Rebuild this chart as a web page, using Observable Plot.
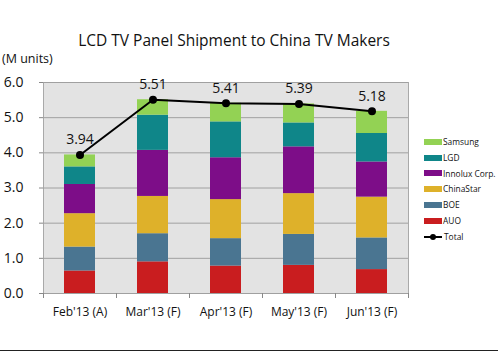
<!DOCTYPE html>
<html>
<head>
<meta charset="utf-8">
<script src="https://cdn.jsdelivr.net/npm/d3@7"></script>
<script src="https://cdn.jsdelivr.net/npm/@observablehq/plot@0.6"></script>
<style>
  html, body { margin: 0; padding: 0; background: #fff; }
  #wrap { position: relative; width: 498px; height: 351px; overflow: hidden; font-family: "Open Sans", sans-serif; color: #111; }
  #wrap svg { position: absolute; left: 0; top: 0; }
  .title { position: absolute; left: 0; width: 468px; top: 30px; text-align: center; font-size: 15.5px; line-height: 20px; }
  .unit { position: absolute; left: 2px; top: 50px; font-size: 12.5px; line-height: 18px; }
  .legend { position: absolute; left: 424px; top: 134px; font-size: 8.4px; line-height: 15.8px; }
  .legend div { display: flex; align-items: center; height: 15.8px; white-space: nowrap; }
  .sw { display: inline-block; width: 18px; height: 6px; margin-right: 1px; }
  .ln { position: relative; display: inline-block; width: 18px; height: 6px; margin-right: 2px; }
  .ln::before { content: ""; position: absolute; left: 0; right: 0; top: 2px; height: 2px; background: #000; }
  .ln::after { content: ""; position: absolute; left: 6px; top: 0; width: 6px; height: 6px; border-radius: 50%; background: #000; }
  .border { position: absolute; left: 0; right: 0; bottom: 0; height: 1px; background: #222; }
</style>
</head>
<body>
<div id="wrap">
  <div class="title">LCD TV Panel Shipment to China TV Makers</div>
  <div class="unit">(M units)</div>
  <div class="legend" id="legend"></div>
  <div class="border"></div>
</div>
<script>
const months = ["Feb'13 (A)", "Mar'13 (F)", "Apr'13 (F)", "May'13 (F)", "Jun'13 (F)"];
const makers = ["AUO", "BOE", "ChinaStar", "Innolux Corp.", "LGD", "Samsung"];
const makerColors = ["#c91d1f", "#4a7591", "#deb12a", "#7d0d88", "#0f8689", "#93d254"];
const auo       = [0.64, 0.90, 0.78, 0.80, 0.68];
const boe       = [0.68, 0.80, 0.78, 0.88, 0.90];
const chinaStar = [0.95, 1.06, 1.11, 1.16, 1.16];
const innolux   = [0.83, 1.31, 1.19, 1.33, 1.00];
const lgd       = [0.50, 1.00, 1.02, 0.68, 0.81];
const samsung   = [0.34, 0.44, 0.53, 0.54, 0.63];
const total     = [3.94, 5.51, 5.41, 5.39, 5.18];
const yTicks    = [0, 1, 2, 3, 4, 5, 6];

const series = [auo, boe, chinaStar, innolux, lgd, samsung];
const rows = [];
makers.forEach((m, j) => months.forEach((mo, i) => rows.push({month: mo, maker: m, value: series[j][i]})));
const totals = months.map((mo, i) => ({month: mo, total: total[i]}));

const W = 498, H = 351;
const mL = 43, mR = 90, mT = 82, mB = 58;
const step = (W - mL - mR) / months.length;

const chart = Plot.plot({
  width: W, height: H,
  marginLeft: mL, marginRight: mR, marginTop: mT, marginBottom: mB,
  style: {fontFamily: "Open Sans, sans-serif", background: "transparent", color: "#111"},
  x: {domain: months, paddingInner: 0.57, paddingOuter: 0.285, label: null},
  y: {domain: [0, 6], label: null},
  color: {domain: makers, range: makerColors},
  marks: [
    Plot.frame({fill: "#e3e3e3", stroke: "#a9a9a9"}),
    Plot.gridY(yTicks, {stroke: "#a0a0a0", strokeOpacity: 1, strokeWidth: 1}),
    Plot.barY(rows, {x: "month", y: "value", fill: "maker", order: makers}),
    Plot.ruleX(months, {x: d => d, dx: -step / 2, y1: 0, y2: 0, insetBottom: -5, stroke: "#888"}),
    Plot.ruleX(months.slice(-1), {x: d => d, dx: step / 2, y1: 0, y2: 0, insetBottom: -5, stroke: "#888"}),
    Plot.axisY(yTicks, {tickFormat: d3.format(".1f"), tickSize: 4, tickPadding: 16, fontSize: 14, stroke: "#888"}),
    Plot.axisX({tickSize: 0, tickPadding: 14, fontSize: 12}),
    Plot.line(totals, {x: "month", y: "total", stroke: "#000", strokeWidth: 2}),
    Plot.dot(totals, {x: "month", y: "total", r: 4, fill: "#000"}),
    Plot.text(totals, {x: "month", y: "total", text: d => d3.format(".2f")(d.total), dy: -15, fontSize: 14})
  ]
});
document.getElementById("wrap").prepend(chart);

const legend = document.getElementById("legend");
makers.slice().reverse().forEach((m) => {
  const c = makerColors[makers.indexOf(m)];
  const row = document.createElement("div");
  row.innerHTML = `<span class="sw" style="background:${c}"></span>${m}`;
  legend.appendChild(row);
});
const tr = document.createElement("div");
tr.innerHTML = `<span class="ln"></span>Total`;
legend.appendChild(tr);
</script>
</body>
</html>
